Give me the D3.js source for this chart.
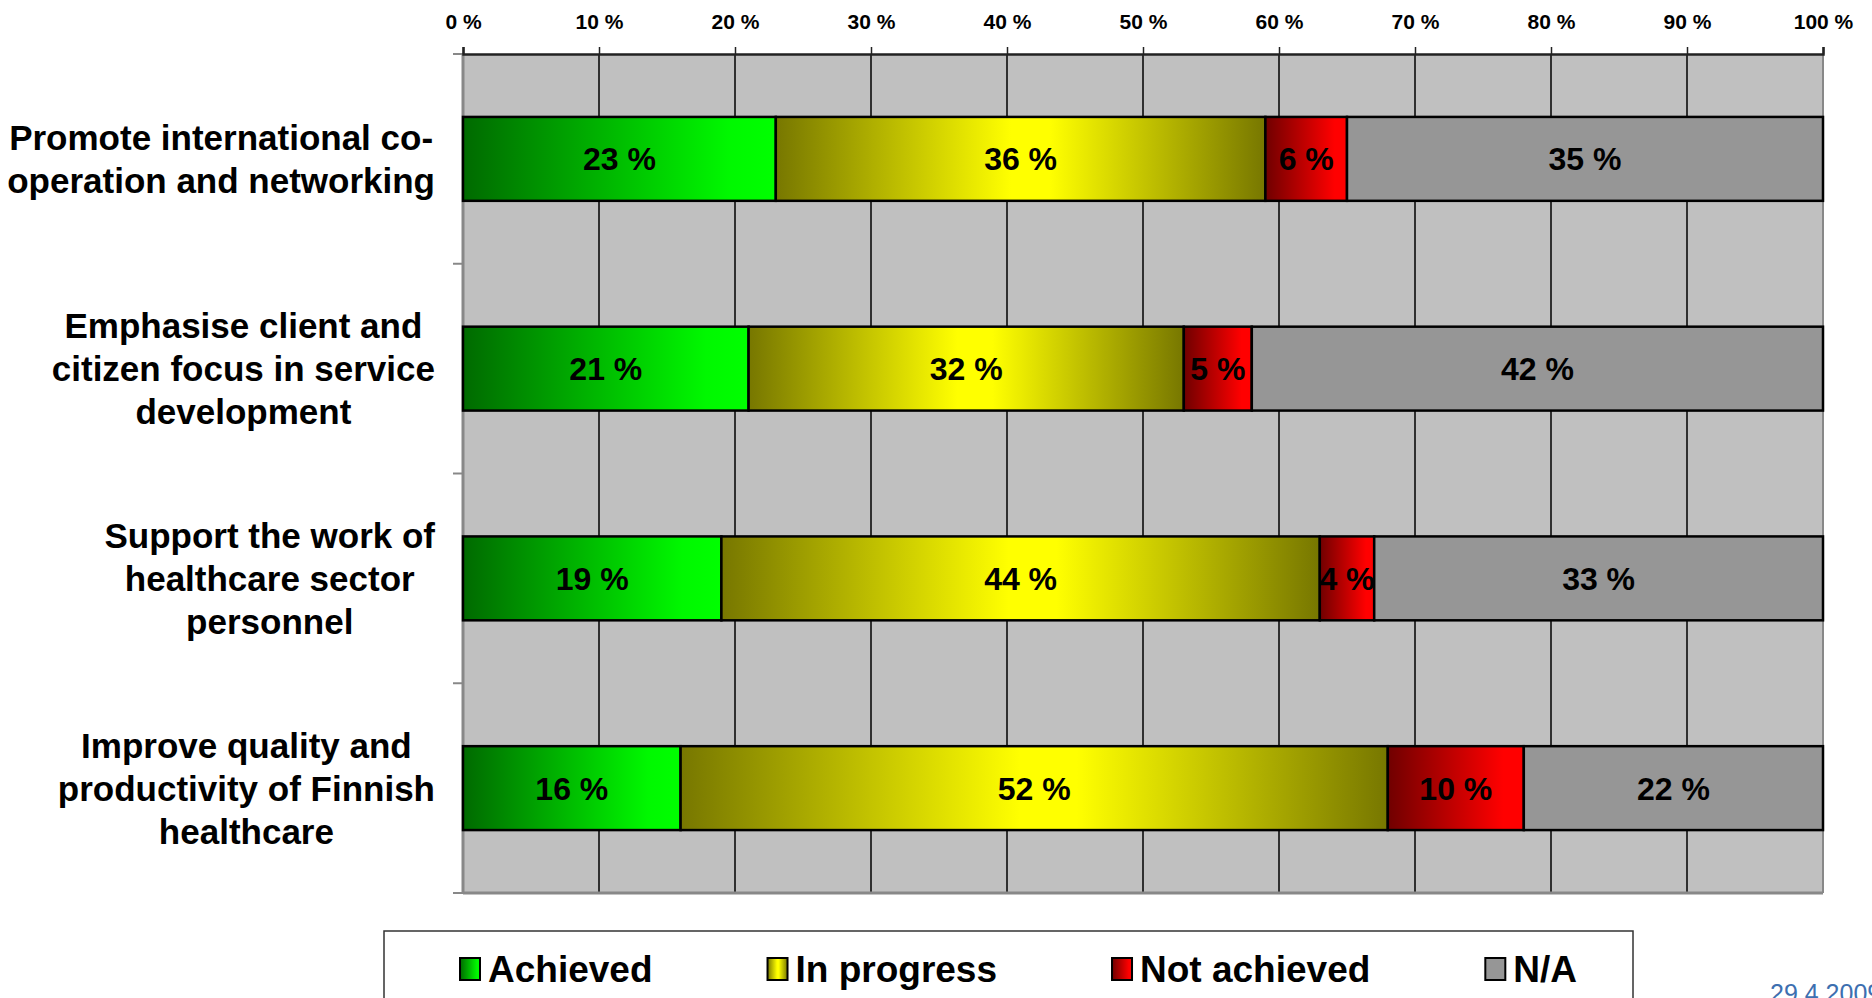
<!DOCTYPE html>
<html>
<head>
<meta charset="utf-8">
<script src="https://cdn.jsdelivr.net/npm/d3@7"></script>
<style>
  body { margin: 0; background: #fff; }
  svg { display: block; font-family: "Liberation Sans", Arial, sans-serif; }
</style>
</head>
<body>
<div id="chart"></div>
<script>
// categories (one line of text per array entry)
const categories = [
    ["Promote international co-", "operation and networking"],
    ["Emphasise client and", "citizen focus in service", "development"],
    ["Support the work of", "healthcare sector", "personnel"],
    ["Improve quality and", "productivity of Finnish", "healthcare"]
];
const seriesNames = ["Achieved", "In progress", "Not achieved", "N/A"];
const achieved = [23, 21, 19, 16];
const inProgress = [36, 32, 44, 52];
const notAchieved = [6, 5, 4, 10];
const notApplicable = [35, 42, 33, 22];
const xTicks = [0, 10, 20, 30, 40, 50, 60, 70, 80, 90, 100];
const dateText = "29.4.2009";

const width = 1872;
const height = 998;
const margin = { top: 54, left: 463, bottom: 105, right: 49 };
const iwidth = width - margin.left - margin.right;
const iheight = height - margin.top - margin.bottom;

const svg = d3.select("#chart").append("svg")
    .attr("width", width)
    .attr("height", height);

// gradients for each series
const defs = svg.append("defs");
const gradStops = [
    [[0, "#006a00"], [0.85, "#00f800"], [1, "#00ff00"]],
    [[0, "#777700"], [0.48, "#ffff00"], [0.56, "#ffff00"], [1, "#777700"]],
    [[0, "#700000"], [0.85, "#ff0000"], [1, "#ff0000"]],
    [[0, "#969696"], [1, "#969696"]]
];
gradStops.forEach((stops, i) => {
    const lg = defs.append("linearGradient")
        .attr("id", "grad" + i)
        .attr("x1", "0").attr("x2", "1").attr("y1", "0").attr("y2", "0");
    stops.forEach(s => lg.append("stop").attr("offset", s[0]).attr("stop-color", s[1]));
});

const keys = categories.map(c => c.join(" "));
const rows = keys.map((k, i) => ({
    key: k,
    lines: categories[i],
    values: [achieved[i], inProgress[i], notAchieved[i], notApplicable[i]]
}));

const g = svg.append("g").attr("transform", `translate(${margin.left},${margin.top})`);

const x = d3.scaleLinear().domain([0, 100]).range([0, iwidth]);
const y = d3.scaleBand().domain(keys).range([0, iheight]).paddingInner(0.6).paddingOuter(0.3);

// plot background
g.append("rect")
    .attr("width", iwidth)
    .attr("height", iheight)
    .attr("fill", "#c0c0c0");

// vertical gridlines
g.selectAll(".grid").data(xTicks.slice(1, -1)).enter().append("line")
    .attr("class", "grid")
    .attr("x1", d => x(d)).attr("x2", d => x(d))
    .attr("y1", 0).attr("y2", iheight)
    .attr("stroke", "#000").attr("stroke-width", 1.5);

// right and bottom border
g.append("line").attr("x1", iwidth).attr("x2", iwidth).attr("y1", 0).attr("y2", iheight)
    .attr("stroke", "#888").attr("stroke-width", 2);
g.append("line").attr("x1", 0).attr("x2", iwidth).attr("y1", iheight).attr("y2", iheight)
    .attr("stroke", "#888").attr("stroke-width", 3);

// left axis ticks at band boundaries
const boundaries = d3.range(keys.length + 1).map(i => i * y.step());
g.selectAll(".ytick").data(boundaries).enter().append("line")
    .attr("class", "ytick")
    .attr("x1", -10).attr("x2", 0)
    .attr("y1", d => d).attr("y2", d => d)
    .attr("stroke", "#888").attr("stroke-width", 2);
g.append("line").attr("x1", 0).attr("x2", 0).attr("y1", 0).attr("y2", iheight)
    .attr("stroke", "#888").attr("stroke-width", 3);

// stacked bars
const stack = rows.map(r => {
    let acc = 0;
    return r.values.map((v, j) => {
        const seg = { key: r.key, j: j, v: v, x0: acc, x1: acc + v };
        acc += v;
        return seg;
    });
});

const barG = g.selectAll(".row").data(stack).enter().append("g").attr("class", "row");
barG.selectAll("rect").data(d => d).enter().append("rect")
    .attr("x", d => x(d.x0))
    .attr("y", d => y(d.key))
    .attr("width", d => x(d.x1) - x(d.x0))
    .attr("height", y.bandwidth())
    .attr("fill", d => `url(#grad${d.j})`)
    .attr("stroke", "#000")
    .attr("stroke-width", 2.5);

barG.selectAll("text").data(d => d).enter().append("text")
    .attr("x", d => (x(d.x0) + x(d.x1)) / 2)
    .attr("y", d => y(d.key) + y.bandwidth() / 2)
    .attr("dy", "0.36em")
    .attr("text-anchor", "middle")
    .attr("font-size", 32)
    .attr("font-weight", "bold")
    .text(d => d.v + " %");

// top axis
const xAxis = g.append("g")
    .call(d3.axisTop(x).tickValues(xTicks).tickFormat(d => d + " %").tickSize(7).tickPadding(18));
xAxis.select(".domain").attr("stroke", "#222").attr("stroke-width", 2.5);
xAxis.selectAll(".tick line").attr("stroke", "#222").attr("stroke-width", 1.5);
xAxis.selectAll(".tick text")
    .attr("font-size", 21)
    .attr("font-weight", "bold")
    .attr("fill", "#000")
    .attr("font-family", "'Liberation Sans', Arial, sans-serif");

// category labels: centered lines inside a block right-aligned at the label edge
const labelRight = -28;
const lineH = 43;
const labelG = g.selectAll(".cat").data(rows).enter().append("text")
    .attr("class", "cat")
    .attr("font-size", 35)
    .attr("font-weight", "bold")
    .attr("text-anchor", "middle");
labelG.each(function (d) {
    const t = d3.select(this);
    const cy = y(d.key) + y.bandwidth() / 2;
    const n = d.lines.length;
    const spans = t.selectAll("tspan").data(d.lines).enter().append("tspan")
        .attr("y", (l, i) => cy + (i - (n - 1) / 2) * lineH)
        .attr("dy", "0.36em")
        .text(l => l);
    let maxW = 0;
    spans.each(function () { maxW = Math.max(maxW, this.getComputedTextLength()); });
    spans.attr("x", labelRight - maxW / 2);
});

// legend
const legend = svg.append("g");
legend.append("rect")
    .attr("x", 384).attr("y", 931)
    .attr("width", 1249).attr("height", 120)
    .attr("fill", "#fff").attr("stroke", "#333").attr("stroke-width", 1.5);

let lx = 460;
seriesNames.forEach((name, i) => {
    const item = legend.append("g").attr("transform", `translate(${lx},0)`);
    item.append("rect")
        .attr("x", 0).attr("y", 958)
        .attr("width", 20).attr("height", 22)
        .attr("fill", `url(#grad${i})`)
        .attr("stroke", "#000").attr("stroke-width", 2);
    const t = item.append("text")
        .attr("x", 28).attr("y", 982)
        .attr("font-size", 37)
        .attr("font-weight", "bold")
        .text(name);
    lx += 28 + t.node().getComputedTextLength() + 115;
});

// date in the corner
svg.append("text")
    .attr("x", 1770).attr("y", 1002)
    .attr("font-size", 25)
    .attr("fill", "#3d6fb0")
    .text(dateText);
</script>
</body>
</html>
